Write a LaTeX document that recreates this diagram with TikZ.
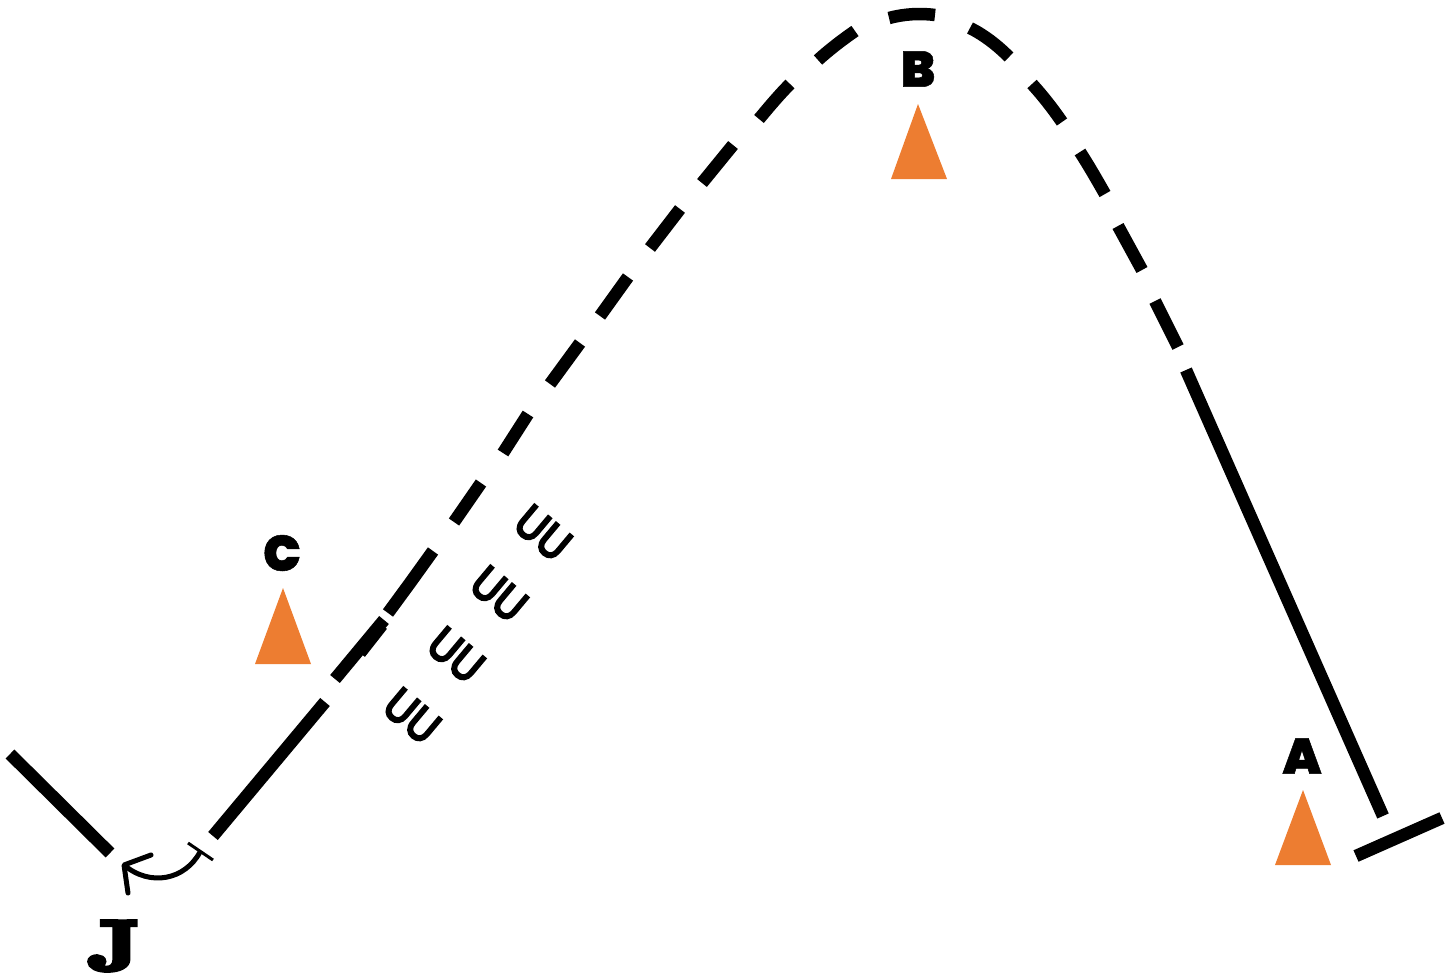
\documentclass[tikz,border=0pt]{standalone}
\usepackage{fontspec}
\newfontfamily\blk[FakeBold=1]{Poppins Black}
\newfontfamily\ufont[FakeBold=7]{Open Sans}
\newfontfamily\fatserif[BoldFeatures={FakeBold=7}]{Latin Modern Roman}
\definecolor{cone}{HTML}{ED7D31}
\tikzset{
  track/.style={line width=12.5pt,black},
  conemark/.style={fill=cone,draw=none},
  letter/.style={inner sep=0pt,font=\blk\fontsize{50}{50}\selectfont},
  jletter/.style={inner sep=0pt,font=\fatserif\bfseries\fontsize{70}{70}\selectfont},
  cones/.style={inner sep=0pt,rotate=-40,font=\ufont\fontsize{44}{44}\selectfont}
}
\newcommand{\uu}{\scalebox{.88}[1]{UU}}
\begin{document}
\begin{tikzpicture}[x=1pt,y=-1pt]
\useasboundingbox (0,0) rectangle (1454,974);
% solid and dashed track
\draw[track] (213,836) -- (325,702);
\draw[track] (335,679) -- (384,620);
\draw[track] (360,653) -- (382,625);
\draw[track] (388,613) -- (410,583) -- (433,551);
\draw[track] (454,522) -- (481,483);
\draw[track] (503,453) -- (528,414);
\draw[track] (550,384) -- (580,343);
\draw[track] (600,316) -- (628,277);
\draw[track] (650,248) -- (680,209);
\draw[track] (702,183) -- (733,145);
\draw[track] (759,119) .. controls (769,107) and (779,95) .. (790,84);
\draw[track] (818,60) .. controls (829,50) and (842,40) .. (855,31);
\draw[track] (889,18) .. controls (904,14) and (920,13) .. (935,15);
\draw[track] (970,28) .. controls (984,35) and (997,45) .. (1009,57);
\draw[track] (1032,84) .. controls (1043,96) and (1053,109) .. (1062,122);
\draw[track] (1080,152) .. controls (1089,166) and (1097,180) .. (1105,194);
\draw[track] (1118,226) -- (1142,270);
\draw[track] (1155,301) -- (1178,347);
\draw[track] (1186,370) -- (1383,816);
% stop bars
\draw[track] (1356,856) -- (1442,818);
\draw[track] (10,754) -- (110,853);
% turn arrow
\draw[line width=3pt] (188,843) -- (213,860);
\draw[line width=5pt] (200,852) .. controls (185,880) and (150,887) .. (124,865);
\draw[line width=5pt,line cap=round,line join=round] (151,855) -- (124,865) -- (128,893);
% cones
\fill[conemark] (918,104) -- (947,179) -- (891,179) -- cycle;
\fill[conemark] (1303,790) -- (1331,865) -- (1275,865) -- cycle;
\fill[conemark] (283,588) -- (311,664) -- (255,664) -- cycle;
% labels
\node[letter] (labelB) at (918,69) {B};
\node[letter] (labelA) at (1302,756) {A};
\node[letter] (labelC) at (282,553) {C};
\node[jletter] (labelJ) at (114,946) {\scalebox{1.3}[1]{J}};
\node[cones] (u1) at (543,533) {\uu};
\node[cones] (u2) at (499,594) {\uu};
\node[cones] (u3) at (456,655) {\uu};
\node[cones] (u4) at (412,716) {\uu};
\end{tikzpicture}
\end{document}
